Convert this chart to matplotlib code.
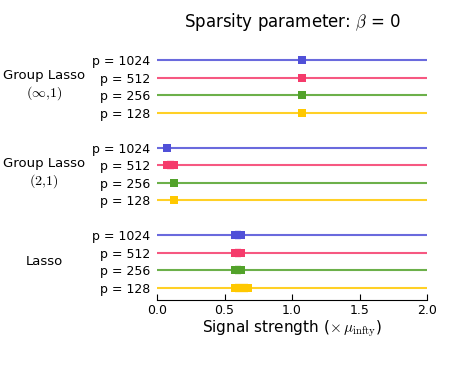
import matplotlib
matplotlib.use("Agg")
import matplotlib.pyplot as plt
from matplotlib.transforms import blended_transform_factory

plt.rcParams['mathtext.fontset'] = 'cm'

# data: intervals (low, high) of signal strength, per method and p
p_labels = ["p = 128", "p = 256", "p = 512", "p = 1024"]
colors = ["#ffc800", "#52a22a", "#f53b6b", "#5050d8"]

lasso_lo = [0.578, 0.578, 0.578, 0.578]
lasso_hi = [0.674, 0.622, 0.622, 0.622]
gl21_lo = [0.126, 0.126, 0.074, 0.074]
gl21_hi = [0.126, 0.126, 0.126, 0.074]
glinf_lo = [1.07, 1.07, 1.07, 1.07]
glinf_hi = [1.07, 1.07, 1.07, 1.07]

methods = [
    ("Lasso", None, lasso_lo, lasso_hi),
    ("Group Lasso", r"$(2{,}1)$", gl21_lo, gl21_hi),
    ("Group Lasso", r"$(\infty{,}1)$", glinf_lo, glinf_hi),
]

fig = plt.figure(figsize=(4.49, 3.74), dpi=100)
ax = fig.add_axes([0.35, 0.198, 0.601, 0.674])

xmin, xmax = 0.0, 2.0
yticks = []
ylabels = []
trans = blended_transform_factory(fig.transFigure, ax.transData)
for g, (name, sub, lo, hi) in enumerate(methods):
    base = g * 5
    for i in range(4):
        y = base + i
        ax.plot([xmin, xmax], [y, y], color=colors[i], lw=1.5, alpha=0.85,
                solid_capstyle='butt', zorder=1)
        ax.plot([lo[i], hi[i]], [y, y], color=colors[i], lw=6,
                marker='s', ms=6, mew=0, solid_capstyle='butt', zorder=2)
        yticks.append(y)
        ylabels.append(p_labels[i])
    if sub is None:
        ax.text(0.098, base + 1.5, name, transform=trans, ha='center',
                va='center', fontsize=9.5)
    else:
        ax.text(0.098, base + 2.1, name, transform=trans, ha='center',
                va='center', fontsize=9.5)
        ax.text(0.098, base + 1.1, sub, transform=trans, ha='center',
                va='center', fontsize=10)

ax.set_xlim(xmin, xmax)
ax.set_ylim(-0.7, 13.7)
ax.set_yticks(yticks)
ax.set_yticklabels(ylabels, fontsize=9)
ax.tick_params(axis='y', length=0, pad=5)
ax.set_xticks([0.0, 0.5, 1.0, 1.5, 2.0])
ax.set_xticklabels(["0.0", "0.5", "1.0", "1.5", "2.0"], fontsize=9)
ax.tick_params(axis='x', direction='in', length=4, pad=3)
for s in ['top', 'right', 'left']:
    ax.spines[s].set_visible(False)
ax.set_xlabel(r"Signal strength ($\times\,\mu_{\rm infty}$)", fontsize=11,
              labelpad=1)
ax.set_title(r"Sparsity parameter: $\beta$ = 0", fontsize=12, pad=15)

fig.savefig("out.png", dpi=100)
